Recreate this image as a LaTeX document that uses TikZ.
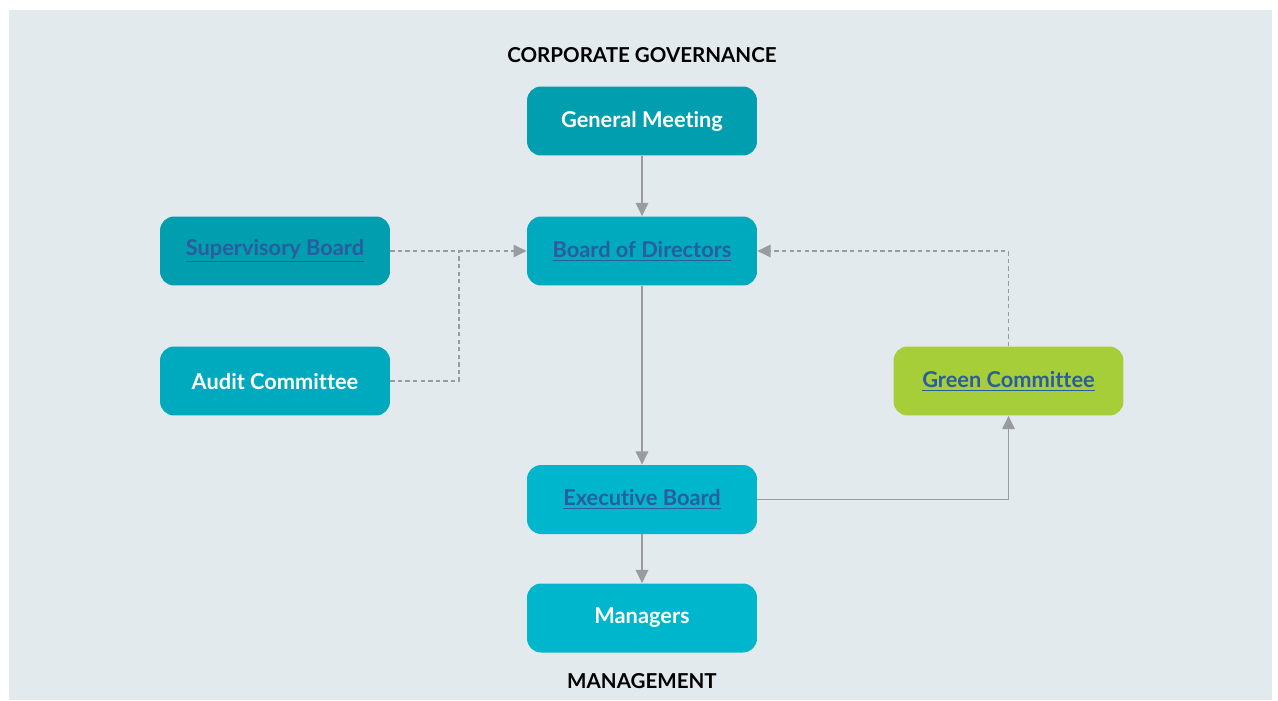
\documentclass[tikz,border=0pt]{standalone}
\usepackage{fontspec}
\setmainfont{Lato}[Ligatures=NoCommon]
\usepackage{xcolor}
\usetikzlibrary{positioning}
\usetikzlibrary{arrows.meta}

\definecolor{panel}{RGB}{227,234,238}
\definecolor{tealdark}{RGB}{0,158,174}
\definecolor{tealmid}{RGB}{0,170,190}
\definecolor{teallight}{RGB}{0,182,204}
\definecolor{lime}{RGB}{166,206,57}
\definecolor{linkblue}{RGB}{44,92,158}
\definecolor{wire}{RGB}{153,155,160}

\tikzset{box/.style = {rounded corners=8pt, minimum width=4.6cm, minimum height=1.38cm,
                       inner sep=0, text=white, font=\fontsize{12.4}{14}\selectfont\bfseries}}
\tikzset{line/.style = {draw=wire, line width=1pt}}
\tikzset{wire/.style = {line, -{Triangle[length=7.5pt,width=7pt]}}}
\tikzset{dashline/.style = {line, dash pattern=on 2.5pt off 1.8pt}}
\tikzset{dashwire/.style = {wire, dash pattern=on 2.5pt off 1.8pt}}
\tikzset{heading/.style = {font=\fontsize{11.7}{14}\selectfont\bfseries, text=black}}
\newcommand{\link}[1]{\textcolor{linkblue}{\underline{#1}}}

\begin{document}
\begin{tikzpicture}[x=0.02cm, y=-0.02cm]
    \useasboundingbox (0,0) rectangle (1278,700);
    \fill[panel] (9,10) rectangle (1272,700);

    \node[heading] (gov) at (642,55) {CORPORATE GOVERNANCE};
    \node[heading] (mgmt) at (642,681) {MANAGEMENT};

    \node[box, fill=tealdark] (meeting) at (642,121) {General Meeting};
    \node[box, fill=tealmid] (board) at (642,251) {\link{Board of Directors}};
    \node[box, fill=tealdark] (super) at (275,251) {\link{Supervisory Board}};
    \node[box, fill=tealmid] (audit) at (275,381) {Audit Committee};
    \node[box, fill=lime] (green) at (1008.5,381) {\link{Green Committee}};
    \node[box, fill=teallight] (exec) at (642,499.5) {\link{Executive Board}};
    \node[box, fill=teallight] (managers) at (642,618) {Managers};

    \coordinate (join) at (459,381);

    \draw[wire] (meeting) -- (board);
    \draw[wire] (board) -- (exec);
    \draw[wire] (exec) -- (managers);
    \draw[wire] (exec.east) -| (green.south);
    \draw[dashwire] (green.north) |- (board.east);
    \draw[dashwire] (super.east) -- (board.west);
    % audit line joins the supervisory line
    \draw[dashline] (audit.east) -- (join) -- (join |- board.west);
\end{tikzpicture}
\end{document}
